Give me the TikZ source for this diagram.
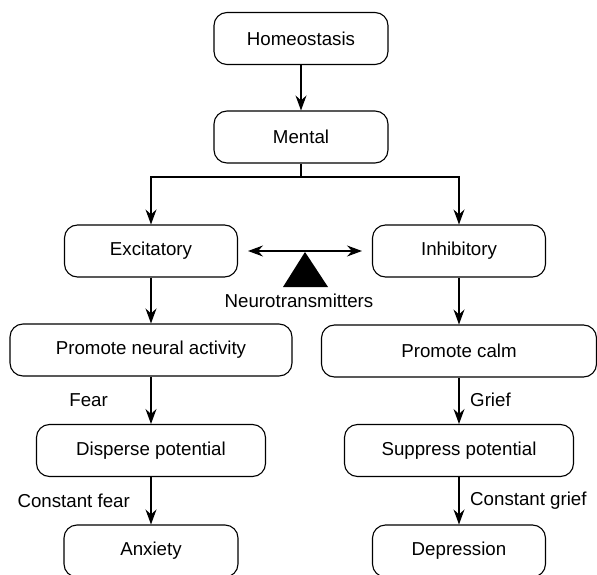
\documentclass[tikz,border=0pt]{standalone}
\usepackage{fontspec}
\setmainfont{Liberation Sans}
\usetikzlibrary{arrows.meta,positioning}
\begin{document}
\begin{tikzpicture}[x=1pt,y=-1pt,
  box/.style={draw, line width=1.1pt, rounded corners=13pt, minimum height=52pt, inner sep=0pt, font=\fontsize{18.7}{22}\selectfont},
  lbl/.style={inner sep=0pt, font=\fontsize{18.7}{22}\selectfont},
  conn/.style={line width=1.1pt, -{Stealth[length=15pt,width=11pt,inset=5pt]}},
  link/.style={line width=1.1pt}
]
\useasboundingbox (0,0) rectangle (597,575);
\node[box, minimum width=174pt] (h) at (301,38.5) {Homeostasis};
\node[box, minimum width=174pt] (m) at (301,137) {Mental};
\node[box, minimum width=173pt] (exc) at (151,251) {Excitatory};
\node[box, minimum width=173pt] (inh) at (459,251) {Inhibitory};
\node[box, minimum width=282pt] (pna) at (151,350) {Promote neural activity};
\node[box, minimum width=275pt] (pc) at (459,351) {Promote calm};
\node[box, minimum width=229pt] (dp) at (151,450.5) {Disperse potential};
\node[box, minimum width=229pt] (sp) at (459,450.5) {Suppress potential};
\node[box, minimum width=174pt] (anx) at (151,551) {Anxiety};
\node[box, minimum width=173pt] (dep) at (459,551) {Depression};
\coordinate (split) at (301,177);
\draw[conn] (h) -- (m);
\draw[link] (m.south) -- (split);
\draw[conn] (split) -| (exc.north);
\draw[conn] (split) -| (inh.north);
\coordinate (la) at (248,251);
\coordinate (ra) at (362,251);
\draw[line width=1.1pt, {Stealth[length=15pt,width=11pt,inset=5pt]}-{Stealth[length=15pt,width=11pt,inset=5pt]}] (la) -- (ra);
\coordinate (tA) at (305,252);
\coordinate (tL) at (283,287);
\coordinate (tR) at (328,287);
\fill (tA) -- (tL) -- (tR) -- cycle;
\node[lbl] (nt) at (299,301) {Neurotransmitters};
\draw[conn] (exc) -- (pna);
\draw[conn] (inh) -- (pc.north -| inh.south);
\draw[conn] (pna) -- (dp);
\draw[conn] (pc.south -| sp.north) -- (sp);
\draw[conn] (dp) -- (anx);
\draw[conn] (sp) -- (dep);
\node[lbl, anchor=east] (fear) at (108,400) {Fear};
\node[lbl, anchor=east] (cfear) at (130,501) {Constant fear};
\node[lbl, anchor=west] (grief) at (470,400) {Grief};
\node[lbl, anchor=west] (cgrief) at (470,501) {Constant grief};
\end{tikzpicture}
\end{document}
